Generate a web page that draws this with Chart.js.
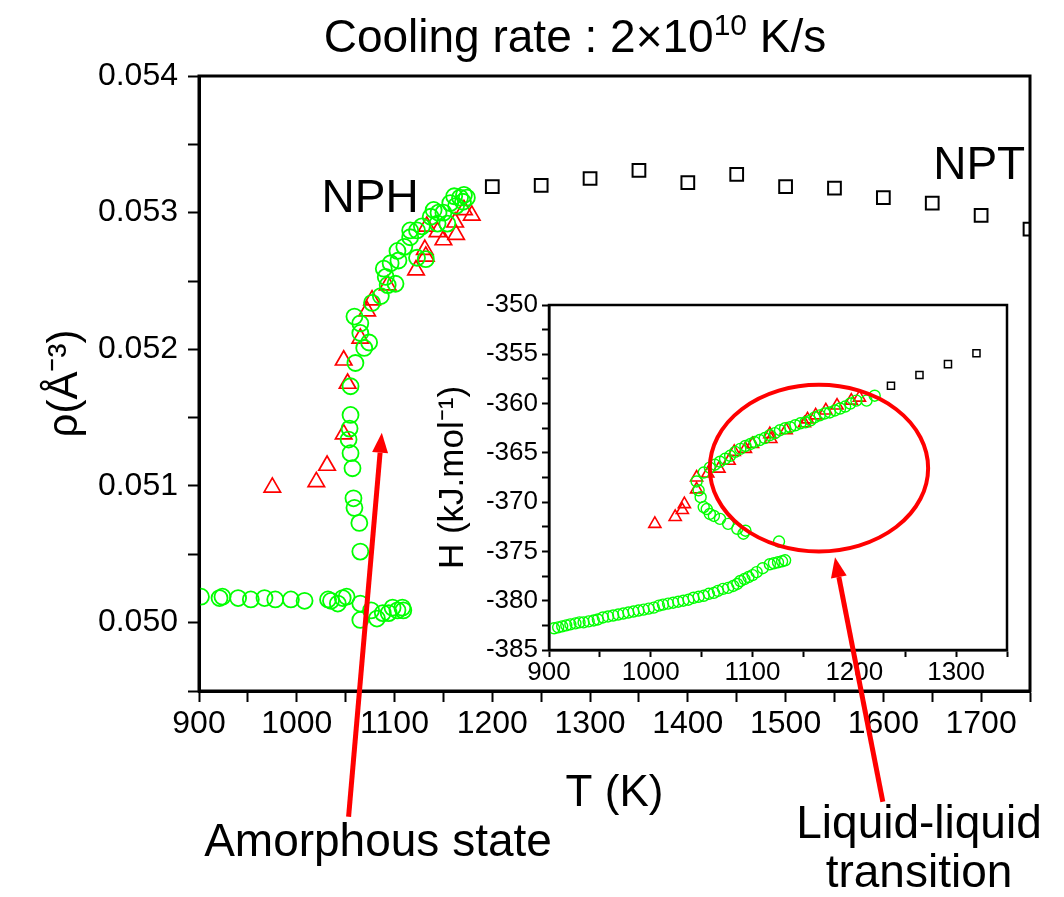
<!DOCTYPE html>
<html>
<head>
<meta charset="utf-8">
<script src="https://cdn.jsdelivr.net/npm/chart.js@4.4.1/dist/chart.umd.min.js"></script>
<style>
  html, body { margin: 0; padding: 0; background: #fff; }
  #wrap { position: relative; width: 1064px; height: 897px; }
  #wrap canvas { position: absolute; left: 0; top: 0; }
</style>
</head>
<body>
<div id="wrap">
  <canvas id="main" width="1064" height="897"></canvas>
  <canvas id="inset" width="1064" height="897"></canvas>
</div>
<script>
// main panel: density vs temperature
const nptT = [1200, 1250, 1300, 1350, 1400, 1450, 1500, 1550, 1600, 1650, 1700, 1750];
const nptRho = [0.05319, 0.05320, 0.05325, 0.05331, 0.05322, 0.05328, 0.05319, 0.05318, 0.05311, 0.05307, 0.05298, 0.05288];

const nphCircT = [902, 921, 924, 940, 953, 967, 978, 994, 1008, 1032, 1035, 1042, 1047, 1051, 1065, 1065, 1076, 1082, 1088, 1094, 1098, 1103, 1108, 1109,
  1055, 1054, 1053, 1055, 1057, 1058, 1059, 1064, 1065,
  1060, 1055, 1069, 1074, 1065, 1065, 1059, 1077, 1086, 1093, 1101, 1091, 1089, 1096, 1104, 1103, 1110, 1116, 1116, 1123, 1123, 1128, 1132,
  1137, 1140, 1145, 1150, 1144, 1154, 1157, 1161, 1163, 1167, 1170, 1171, 1174];
const nphCircRho = [0.05019, 0.05018, 0.05019, 0.05018, 0.05017, 0.05018, 0.05017, 0.05017, 0.05016, 0.05017, 0.05016, 0.05014, 0.05018, 0.05019, 0.05014, 0.05002, 0.05009, 0.05003, 0.05007, 0.05007, 0.05011, 0.05009, 0.05011, 0.05009,
  0.05152, 0.05142, 0.05134, 0.05124, 0.05113, 0.05091, 0.05084, 0.05073, 0.05052,
  0.05190, 0.05173, 0.05201, 0.05205, 0.05212, 0.05219, 0.05224, 0.05234, 0.05239, 0.05247, 0.05248, 0.05253, 0.05259, 0.05263, 0.05265, 0.05272, 0.05275, 0.05282, 0.05287, 0.05287, 0.05267, 0.05290, 0.05266,
  0.05297, 0.05302, 0.05300, 0.05300, 0.05292, 0.05292, 0.05307, 0.05312, 0.05305, 0.05311, 0.05308, 0.05313, 0.05311];

const nphTriT = [975, 1020, 1031, 1048, 1048, 1052, 1065, 1072, 1077, 1093, 1122, 1132, 1131, 1133, 1144, 1150, 1162, 1163, 1171, 1179];
const nphTriRho = [0.05099, 0.05103, 0.05115, 0.05138, 0.05192, 0.05175, 0.05208, 0.05228, 0.05236, 0.05247, 0.05258, 0.05268, 0.05273, 0.05290, 0.05286, 0.05280, 0.05293, 0.05284, 0.05302, 0.05298];

// inset: enthalpy vs temperature
const insetSqT = [1236, 1264, 1292, 1320];
const insetSqH = [-358.2, -357.1, -356.0, -354.9];

const insetCircT = [905, 909, 913, 917, 921, 926, 930, 934, 939, 944, 948, 953, 958, 963, 968, 973, 978, 983, 988, 993, 998, 1003, 1008, 1012, 1017, 1022, 1027, 1032, 1037, 1042,
  1047, 1052, 1057, 1062, 1066, 1071, 1076, 1081, 1085, 1088, 1092, 1096, 1100, 1104, 1110, 1117, 1121, 1125, 1129, 1132,
  1126,
  1045, 1047, 1049, 1052, 1055, 1058, 1062, 1068, 1076, 1085, 1091, 1093,
  1052, 1058, 1063, 1068, 1073, 1078, 1083, 1088, 1093, 1098, 1102, 1107, 1112, 1117, 1122, 1127, 1132, 1137, 1142, 1147,
  1152, 1157, 1161, 1166, 1171, 1176, 1181, 1186, 1191, 1196, 1202, 1212, 1220];
const insetCircH = [-382.8, -382.7, -382.6, -382.5, -382.4, -382.3, -382.2, -382.2, -382.1, -382.0, -381.9, -381.7, -381.6, -381.5, -381.4, -381.3, -381.2, -381.1, -381.0, -380.9, -380.8, -380.7, -380.5, -380.4, -380.3, -380.2, -380.1, -380.0, -379.9, -379.7,
  -379.6, -379.5, -379.3, -379.2, -379.0, -378.8, -378.7, -378.5, -378.3, -378.0, -377.8, -377.6, -377.4, -377.1, -376.7, -376.3, -376.2, -376.1, -376.0, -375.9,
  -374.0,
  -367.9, -368.8, -369.5, -370.5, -370.7, -371.2, -371.4, -371.7, -372.2, -372.7, -373.2, -372.9,
  -367.0, -366.5, -366.2, -365.9, -365.6, -365.3, -364.9, -364.6, -364.3, -364.1, -363.9, -363.7, -363.5, -363.2, -363.0, -362.7, -362.5, -362.4, -362.2, -362.0,
  -361.9, -361.7, -361.4, -361.2, -361.0, -360.9, -360.7, -360.5, -360.3, -360.0, -359.7, -359.7, -359.2];

const insetTriT = [1004, 1024, 1031, 1033, 1045, 1045, 1056, 1067, 1077, 1082, 1093, 1100, 1117, 1118, 1133, 1151, 1154, 1162, 1172, 1183, 1197, 1205];
const insetTriH = [-372.2, -371.5, -370.8, -370.2, -368.7, -367.5, -367.1, -366.6, -365.8, -364.9, -364.6, -364.1, -363.1, -363.6, -362.7, -362.0, -361.6, -361.2, -360.7, -360.2, -359.7, -359.4];

const FONT = "'Liberation Sans', Arial, sans-serif";
Chart.defaults.font.family = FONT;
Chart.defaults.color = '#000';

const pts = (xs, ys) => xs.map((x, i) => ({x: x, y: ys[i]}));

// full box around the plot area
const frame = {
  id: 'frame',
  afterDraw(chart, args, opts) {
    const a = chart.chartArea, ctx = chart.ctx;
    ctx.save();
    ctx.strokeStyle = '#000';
    ctx.lineWidth = opts.width;
    ctx.strokeRect(a.left, a.top, a.right - a.left, a.bottom - a.top);
    ctx.restore();
  }
};

const headline = {
  id: 'headline',
  afterDraw(chart) {
    const ctx = chart.ctx;
    const parts = [
      ['Cooling rate : 2\u00d710', '46px ' + FONT, 0],
      ['10', '30px ' + FONT, -17],
      [' K/s', '46px ' + FONT, 0]
    ];
    ctx.save();
    ctx.fillStyle = '#000';
    ctx.textBaseline = 'alphabetic';
    let total = 0;
    parts.forEach(p => { ctx.font = p[1]; total += ctx.measureText(p[0]).width; });
    let x = 575 - total / 2;
    parts.forEach(p => {
      ctx.font = p[1];
      ctx.fillText(p[0], x, 52 + p[2]);
      x += ctx.measureText(p[0]).width;
    });
    ctx.restore();
  }
};

function arrow(ctx, x1, y1, x2, y2) {
  const ang = Math.atan2(y2 - y1, x2 - x1);
  const hl = 20, hw = 8;
  const bx = x2 - hl * Math.cos(ang), by = y2 - hl * Math.sin(ang);
  ctx.beginPath();
  ctx.moveTo(x1, y1);
  ctx.lineTo(bx, by);
  ctx.stroke();
  ctx.beginPath();
  ctx.moveTo(x2, y2);
  ctx.lineTo(bx + hw * Math.sin(ang), by - hw * Math.cos(ang));
  ctx.lineTo(bx - hw * Math.sin(ang), by + hw * Math.cos(ang));
  ctx.closePath();
  ctx.fill();
}

const mainChart = new Chart(document.getElementById('main'), {
  type: 'scatter',
  data: {
    datasets: [
      {label: 'NPT', data: pts(nptT, nptRho), pointStyle: 'rect', radius: 9, borderColor: '#000', borderWidth: 2, backgroundColor: 'rgba(0,0,0,0)', clip: 0},
      {label: 'NPH', data: pts(nphCircT, nphCircRho), pointStyle: 'circle', radius: 8, borderColor: '#00ff00', borderWidth: 1.8, backgroundColor: 'rgba(0,0,0,0)', clip: 0},
      {label: 'NPH b', data: pts(nphTriT, nphTriRho), pointStyle: 'triangle', radius: 9.5, borderColor: '#ff0000', borderWidth: 1.7, backgroundColor: 'rgba(0,0,0,0)', clip: 0}
    ]
  },
  options: {
    responsive: false,
    animation: false,
    events: [],
    layout: {padding: {left: 36, right: 34, top: 76, bottom: 77}},
    plugins: {legend: {display: false}, tooltip: {enabled: false}, frame: {width: 3}},
    scales: {
      x: {
        type: 'linear', min: 900, max: 1750,
        afterFit: s => { s.height = 129; },
        ticks: {
          stepSize: 50, autoSkip: false, maxRotation: 0, padding: 3,
          font: {size: 32}, color: '#000',
          callback: v => (v % 100 === 0 ? String(v) : '')
        },
        grid: {drawOnChartArea: false, tickLength: 11, tickWidth: 2, tickColor: '#000'},
        border: {color: '#000', width: 3},
        title: {display: true, text: 'T (K)', font: {size: 44}, color: '#000', padding: {top: 0, bottom: 0}}
      },
      y: {
        type: 'linear', min: 0.0495, max: 0.054,
        afterFit: s => { s.width = 163; },
        ticks: {
          stepSize: 0.0005, autoSkip: false, padding: 10,
          font: {size: 32}, color: '#000',
          callback: v => (Math.round(v * 10000) % 10 === 0 ? v.toFixed(3) : '')
        },
        grid: {drawOnChartArea: false, tickLength: 11, tickWidth: 2, tickColor: '#000'},
        border: {color: '#000', width: 3},
        title: {display: true, text: '\u03c1(\u00c5\u207b\u00b3)', font: {size: 42}, color: '#000', padding: {top: 4, bottom: 0}}
      }
    }
  },
  plugins: [frame, headline]
});

// annotations drawn on the top canvas so they sit over the inset
const notes = {
  id: 'notes',
  afterDraw(chart) {
    const ctx = chart.ctx;
    const ix = chart.scales.x, iy = chart.scales.y;
    const mx = mainChart.scales.x, my = mainChart.scales.y;
    ctx.save();
    ctx.strokeStyle = '#ff0000';
    ctx.fillStyle = '#ff0000';

    // ellipse around the liquid-liquid region of the inset
    const ex1 = ix.getPixelForValue(1058), ex2 = ix.getPixelForValue(1272.5);
    const ey1 = iy.getPixelForValue(-358.1), ey2 = iy.getPixelForValue(-375.0);
    ctx.lineWidth = 4;
    ctx.beginPath();
    ctx.ellipse((ex1 + ex2) / 2, (ey1 + ey2) / 2, (ex2 - ex1) / 2, (ey2 - ey1) / 2, 0, 0, Math.PI * 2);
    ctx.stroke();

    ctx.lineWidth = 5;
    arrow(ctx, ix.getPixelForValue(1228), iy.getPixelForValue(-400.4), ix.getPixelForValue(1181), iy.getPixelForValue(-375.6));
    arrow(ctx, mx.getPixelForValue(1053), my.getPixelForValue(0.04858), mx.getPixelForValue(1087), my.getPixelForValue(0.05139));

    ctx.fillStyle = '#000';
    ctx.textAlign = 'center';
    ctx.textBaseline = 'alphabetic';
    ctx.font = '46px ' + FONT;
    ctx.fillText('NPH', mx.getPixelForValue(1075), my.getPixelForValue(0.053005));
    ctx.fillText('NPT', mx.getPixelForValue(1698), my.getPixelForValue(0.053247));
    ctx.fillText('Amorphous state', 378, 856);
    ctx.fillText('Liquid-liquid', 919, 838);
    ctx.fillText('transition', 919, 887);
    ctx.restore();
  }
};

const insetChart = new Chart(document.getElementById('inset'), {
  type: 'scatter',
  data: {
    datasets: [
      {label: 'NPT', data: pts(insetSqT, insetSqH), pointStyle: 'rect', radius: 5, borderColor: '#000', borderWidth: 1.5, backgroundColor: 'rgba(0,0,0,0)'},
      {label: 'NPH', data: pts(insetCircT, insetCircH), pointStyle: 'circle', radius: 5.5, borderColor: '#00ff00', borderWidth: 1.4, backgroundColor: 'rgba(0,0,0,0)'},
      {label: 'NPH b', data: pts(insetTriT, insetTriH), pointStyle: 'triangle', radius: 7, borderColor: '#ff0000', borderWidth: 1.6, backgroundColor: 'rgba(0,0,0,0)'}
    ]
  },
  options: {
    responsive: false,
    animation: false,
    events: [],
    layout: {padding: {left: 428, right: 57, top: 305, bottom: 207}},
    plugins: {legend: {display: false}, tooltip: {enabled: false}, frame: {width: 2.5}},
    scales: {
      x: {
        type: 'linear', min: 900, max: 1350,
        afterFit: s => { s.height = 40; },
        ticks: {
          stepSize: 50, autoSkip: false, maxRotation: 0, padding: 0,
          font: {size: 26}, color: '#000',
          callback: v => (v % 100 === 0 ? String(v) : '')
        },
        grid: {drawOnChartArea: false, tickLength: 7, tickWidth: 2, tickColor: '#000'},
        border: {color: '#000', width: 2.5}
      },
      y: {
        type: 'linear', min: -385, max: -350,
        afterFit: s => { s.width = 121; },
        ticks: {
          stepSize: 2.5, autoSkip: false, padding: 4,
          font: {size: 26}, color: '#000',
          callback: v => (Number.isInteger(v) && v % 5 === 0 ? String(v) : '')
        },
        grid: {drawOnChartArea: false, tickLength: 7, tickWidth: 2, tickColor: '#000'},
        border: {color: '#000', width: 2.5},
        title: {display: true, text: 'H (kJ.mol\u207b\u00b9)', font: {size: 35}, color: '#000', padding: {top: 4, bottom: 0}}
      }
    }
  },
  plugins: [frame, notes]
});
</script>
</body>
</html>
